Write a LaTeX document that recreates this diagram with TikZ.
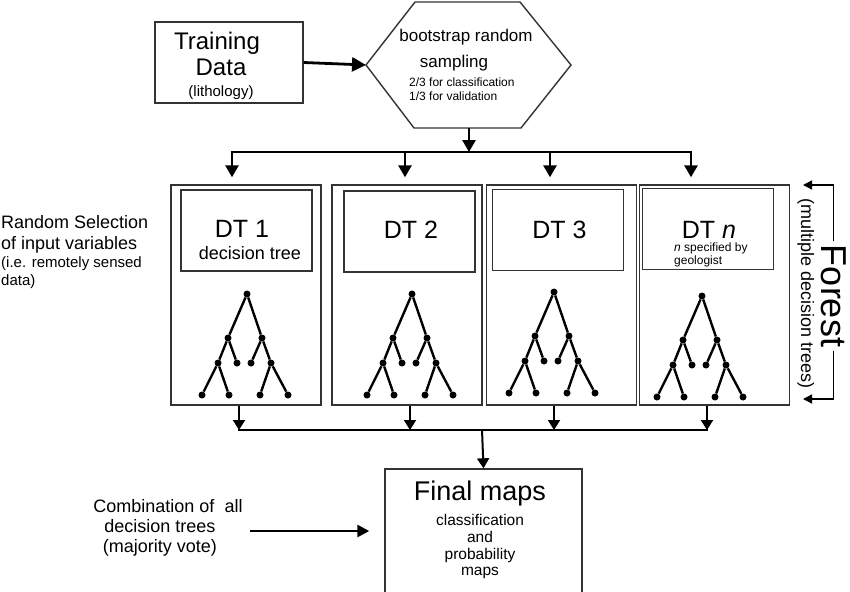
\documentclass[tikz,border=0pt]{standalone}
\usepackage{fontspec}
\setmainfont{Liberation Sans}
\usetikzlibrary{arrows.meta,positioning}

\newcommand{\dtree}[3]{%
    \begin{scope}[shift={(#2,#3)}]
    \node (#1r) [dot] at (0,0) {};
    \node (#1a) [dot] at (-19,44) {};
    \node (#1b) [dot] at (15,44) {};
    \node (#1c) [dot] at (-29,69) {};
    \node (#1d) [dot] at (-10,69) {};
    \node (#1e) [dot] at (4,69) {};
    \node (#1f) [dot] at (24,69) {};
    \node (#1g) [dot] at (-45,101) {};
    \node (#1h) [dot] at (-18,101) {};
    \node (#1i) [dot] at (13,101) {};
    \node (#1j) [dot] at (41,101) {};
    \draw[branch] (#1r) -- (#1a) -- (#1c) -- (#1g) (#1c) -- (#1h) (#1a) -- (#1d);
    \draw[branch] (#1r) -- (#1b) -- (#1f) -- (#1j) (#1f) -- (#1i) (#1b) -- (#1e);
    \end{scope}}

\begin{document}
\begin{tikzpicture}[x=1pt, y=-1pt, text=black,
    frame/.style={draw=black!80, line width=1.4pt, inner sep=0pt},
    dot/.style={circle, fill=black, inner sep=0pt, minimum size=7pt},
    branch/.style={line width=2.4pt},
    bus/.style={line width=2.8pt, -{Triangle[length=12pt,width=13pt]}},
    merger/.style={line width=2pt, -{Triangle[length=10pt,width=12pt]}}]
    \useasboundingbox (0,0) rectangle (850,591);
    \def\big{\fontsize{25}{22}\selectfont}

    \node (train) [frame, minimum width=148pt, minimum height=81pt] at (229,62.5) {};
    \node (traintxt) [align=center, font=\fontsize{24}{26}\selectfont] at (221,66)
        {\hspace*{-8pt}Training\\Data\\[-5pt]{\fontsize{15}{15}\selectfont (lithology)}};

    \coordinate (hexL) at (366,65);
    \coordinate (hexTL) at (415,2);
    \coordinate (hexTR) at (520,2);
    \coordinate (hexR) at (571,65);
    \coordinate (hexBR) at (521,128);
    \coordinate (hexBL) at (414,128);
    \coordinate (hexB) at (469,128);
    \draw[draw=black!80, line width=1.4pt] (hexL) -- (hexTL) -- (hexTR) -- (hexR) -- (hexBR) -- (hexBL) -- cycle;
    \node (boot) [align=center, font=\fontsize{17}{26}\selectfont] at (466,50.5) {bootstrap random\\\hspace*{-24pt}sampling};
    \node (split3) [anchor=west, align=left, inner sep=0pt, font=\fontsize{12}{14}\selectfont] at (409,89)
        {2/3 for classification\\1/3 for validation};
    \draw[line width=2.8pt, -{Triangle[length=14pt,width=14pt]}] (train.east) -- (hexL);

    \foreach \i/\x in {1/246,2/407,3/561.5,4/714.5}
        \node (dt\i) [frame, minimum width=150pt, minimum height=220pt] at (\x,295) {};
    \foreach \i/\x/\y in {1/246.5/230.5,2/409.5/231.5,3/558/230,4/708/229}
        \node (hd\i) [frame, minimum width=131pt, minimum height=81pt] at (\x,\y) {};

    \node (dt1txt) [align=center, font=\big] at (250,240) {\hspace*{-16pt}DT 1\\{\fontsize{18}{18}\selectfont decision tree}};
    \node (dt2txt) [font=\big] at (411,230) {DT 2};
    \node (dt3txt) [font=\big] at (559.5,230) {DT 3};
    \node (dt4txt) [font=\big] at (709,230) {DT \textit{n}};
    \node (geo) [anchor=west, align=left, inner sep=0pt, font=\fontsize{12}{12.5}\selectfont] at (674,255)
        {\textit{n} specified by\\geologist};

    \dtree{t1}{247}{294}
    \dtree{t2}{412}{294}
    \dtree{t3}{554}{292}
    \dtree{t4}{702}{296}

    \coordinate (split) at (469,152);
    \coordinate (a1) at (232,152);
    \coordinate (a2) at (405,152);
    \coordinate (a3) at (550,152);
    \coordinate (a4) at (691,152);
    \draw[bus] (hexB) -- (split);
    \foreach \i in {1,...,4}
        \draw[bus, shorten >=7pt] (split) -| (a\i |- dt\i.north);

    \node (final) [frame, minimum width=197pt, minimum height=152pt] at (483.5,545) {};
    \node (finaltxt) [align=center, font=\fontsize{15.5}{16.7}\selectfont] at (480,530)
        {{\fontsize{27}{27}\selectfont Final maps}\\[7.3pt]classification\\and\\probability\\maps};

    \coordinate (merge) at (482,430);
    \coordinate (b1) at (239,430);
    \coordinate (b2) at (410,430);
    \coordinate (b3) at (554,430);
    \coordinate (b4) at (707,430);
    \foreach \i in {1,...,4}
        \draw[merger] (dt\i.south -| b\i) -- (b\i);
    \draw[line width=2pt, line cap=rect] (b1) -- (b4);
    \draw[merger] (merge) -- (final.north);

    \node (rsel) [anchor=west, align=left, inner sep=1pt, font=\fontsize{18}{18}\selectfont] at (0,252)
        {Random Selection\\[3pt]of input variables\\{\fontsize{15}{15}\selectfont (i.e. remotely sensed}\\{\fontsize{15}{15}\selectfont data)}};

    \node (comb) [align=center, font=\fontsize{18}{20}\selectfont] at (160,528)
        {\hspace*{16pt}Combination of\ \ all\\decision trees\\(majority vote)};
    \coordinate (cstart) at (250,531);
    \draw[line width=2.5pt, shorten >=15pt, -{Triangle[length=12pt,width=12pt]}] (cstart) -- (cstart -| final.west);

    \node (forest) [rotate=-90, anchor=base, font=\fontsize{36}{36}\selectfont] at (821,296) {Forest};
    \node (multi) [rotate=-90, anchor=base, font=\fontsize{18}{18}\selectfont] at (801,294) {(multiple decision trees)};
    \coordinate (ftop) at (803,185);
    \coordinate (fbot) at (803,399);
    \draw[line width=1.3pt, -{Triangle[length=9pt,width=9pt]}] (forest.west) |- (ftop);
    \draw[line width=1.3pt, -{Triangle[length=9pt,width=9pt]}] (forest.east) |- (fbot);
\end{tikzpicture}
\end{document}
